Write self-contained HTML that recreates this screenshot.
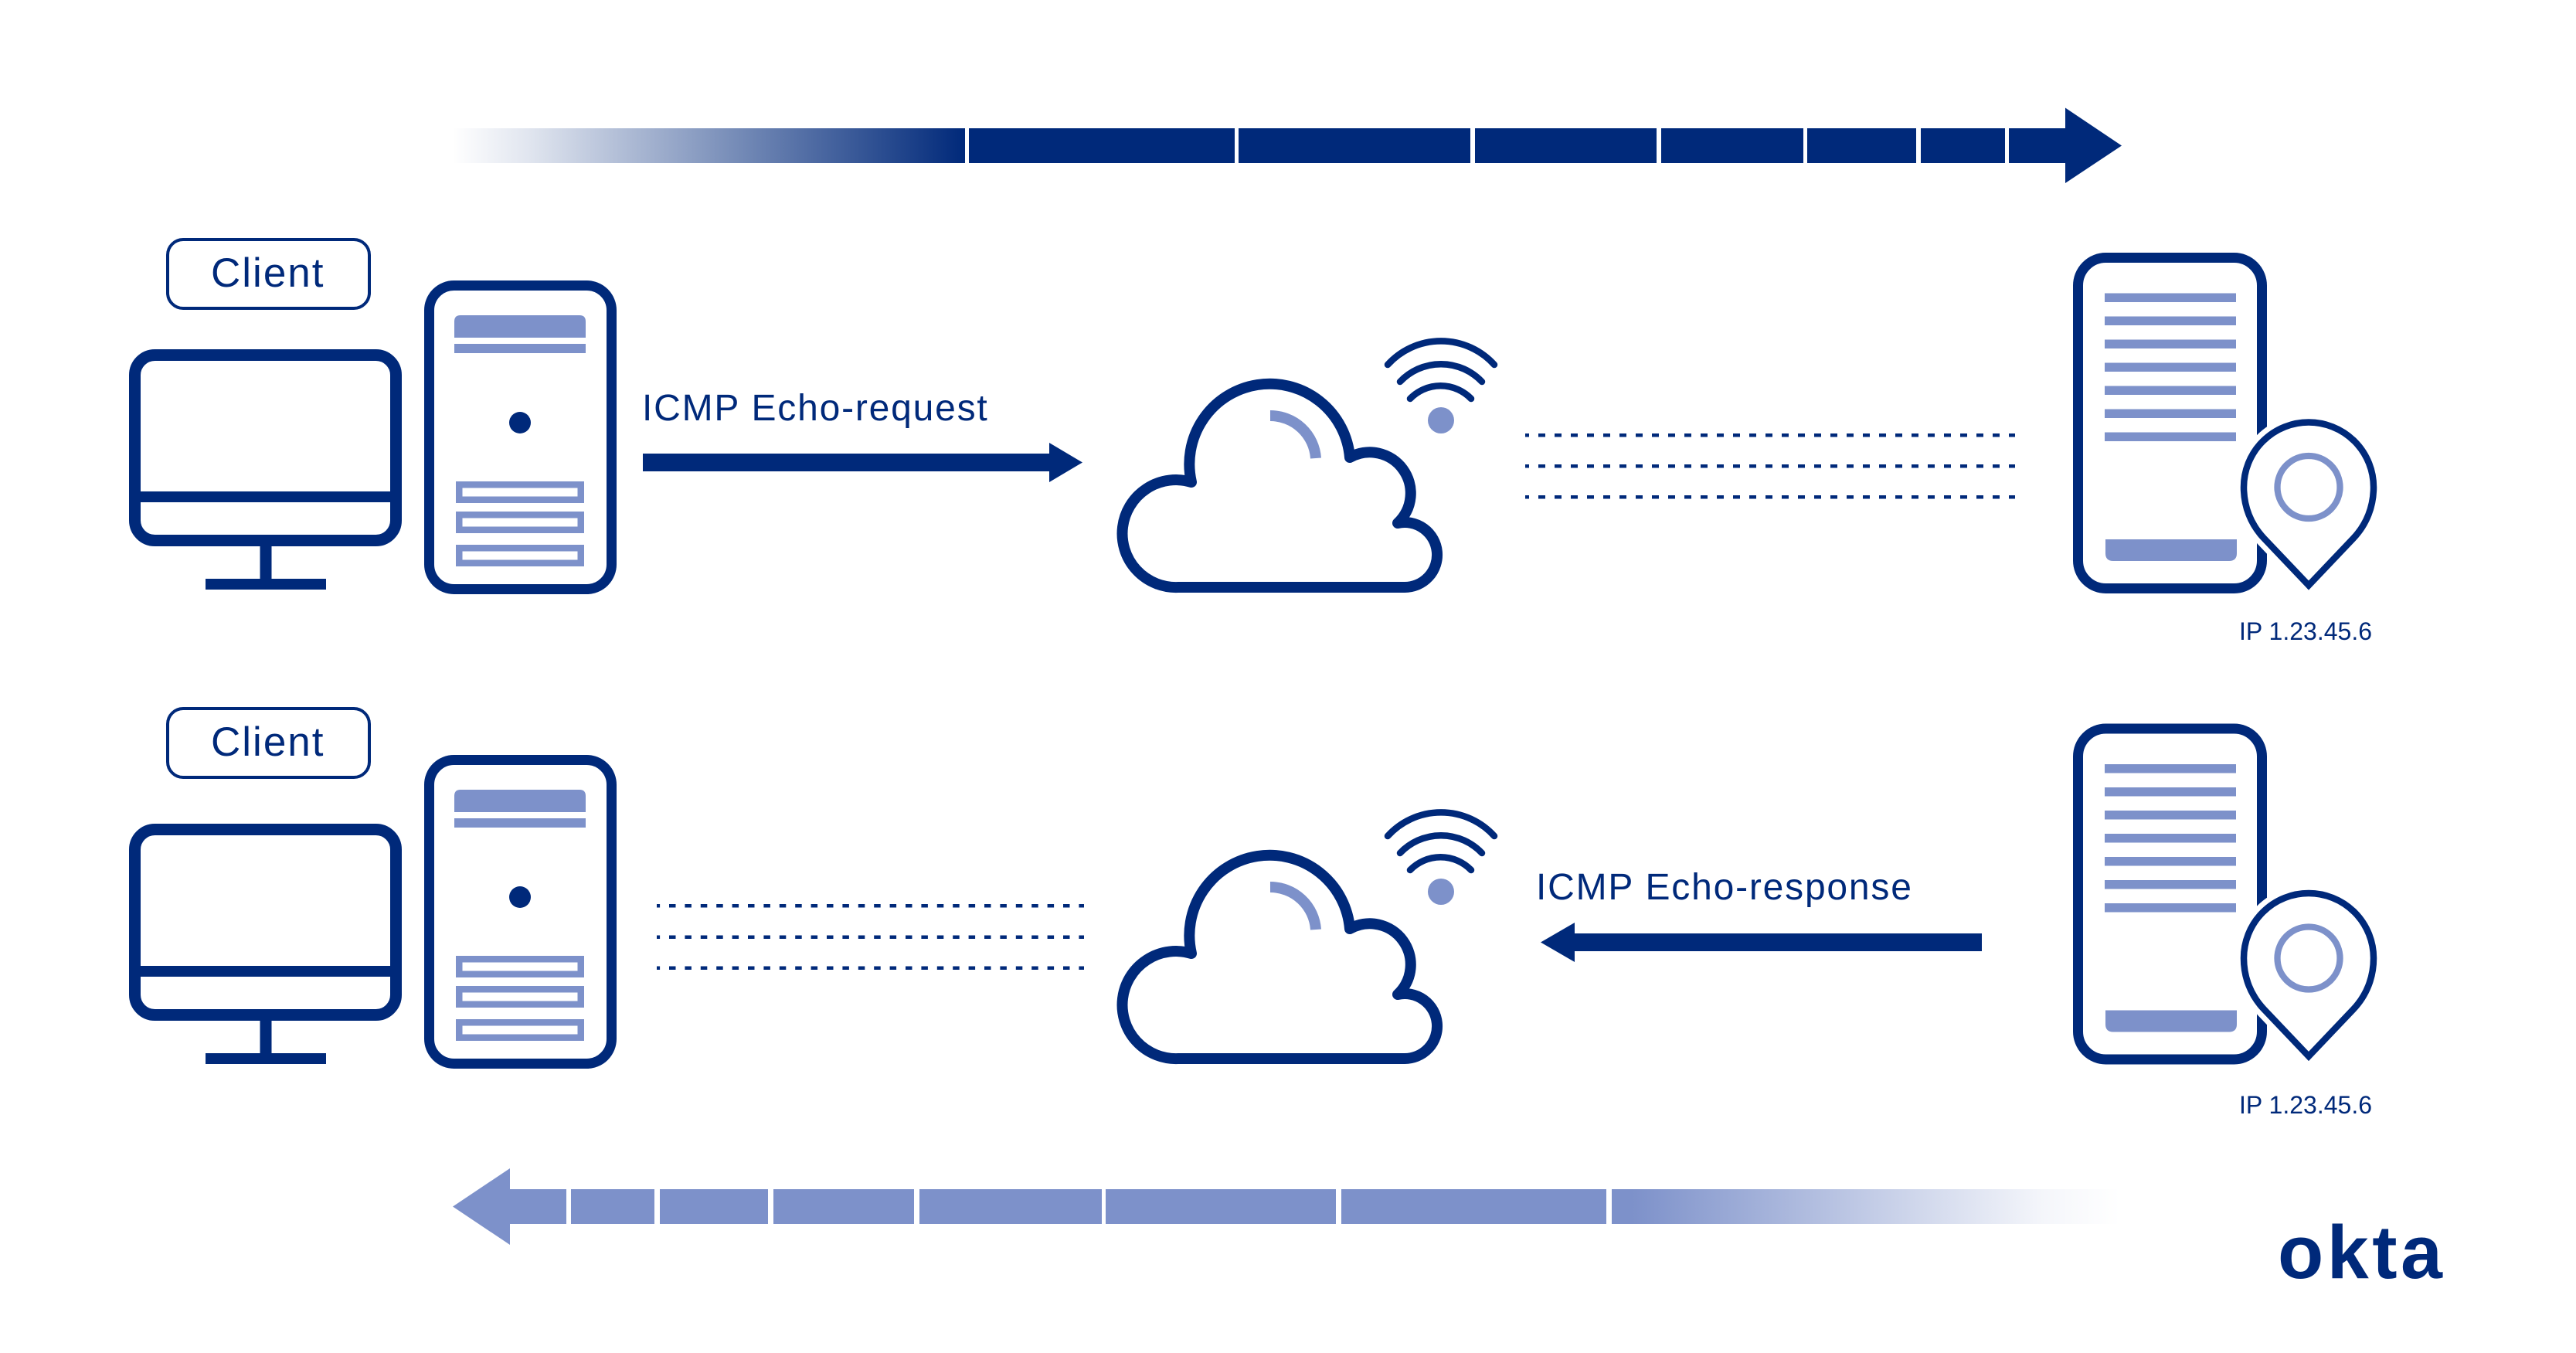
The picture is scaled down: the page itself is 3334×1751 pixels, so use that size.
<!DOCTYPE html>
<html>
<head>
<meta charset="utf-8">
<style>
  html,body{margin:0;padding:0;background:#fff;}
  body{width:3334px;height:1751px;overflow:hidden;}
  svg{display:block;}
  text{font-family:"Liberation Sans",Arial,sans-serif;fill:#00297A;}
</style>
</head>
<body>
<svg width="3334" height="1751" viewBox="0 0 3334 1751" xmlns="http://www.w3.org/2000/svg">
  <defs>
    <linearGradient id="gTop" x1="585" y1="0" x2="1249" y2="0" gradientUnits="userSpaceOnUse">
      <stop offset="0" stop-color="#00297A" stop-opacity="0"/>
      <stop offset="0.15" stop-color="#00297A" stop-opacity="0.12"/>
      <stop offset="1" stop-color="#00297A" stop-opacity="1"/>
    </linearGradient>
    <linearGradient id="gBot" x1="2086" y1="0" x2="2744" y2="0" gradientUnits="userSpaceOnUse">
      <stop offset="0" stop-color="#7D91CA" stop-opacity="1"/>
      <stop offset="0.04" stop-color="#7D91CA" stop-opacity="1"/>
      <stop offset="0.85" stop-color="#7D91CA" stop-opacity="0.08"/>
      <stop offset="1" stop-color="#7D91CA" stop-opacity="0"/>
    </linearGradient>

    <!-- client computer (monitor + tower) -->
    <g id="pc">
      <rect x="174.5" y="459.5" width="338" height="240" rx="26" fill="none" stroke="#00297A" stroke-width="15"/>
      <rect x="175" y="636" width="338" height="14" fill="#00297A"/>
      <rect x="336.5" y="700" width="15" height="52" fill="#00297A"/>
      <rect x="266" y="749" width="156" height="14" fill="#00297A"/>
      <rect x="555.5" y="369.5" width="236" height="393" rx="32" fill="none" stroke="#00297A" stroke-width="13"/>
      <path d="M588 437 V416 Q588 408 596 408 H750 Q758 408 758 416 V437 Z" fill="#7D91CA"/>
      <rect x="588" y="445" width="170" height="12" fill="#7D91CA"/>
      <circle cx="673" cy="547" r="14" fill="#00297A"/>
      <rect x="594.25" y="627.25" width="157.5" height="19.5" fill="none" stroke="#7D91CA" stroke-width="8.5"/>
      <rect x="594.25" y="666.25" width="157.5" height="19.5" fill="none" stroke="#7D91CA" stroke-width="8.5"/>
      <rect x="594.25" y="709.25" width="157.5" height="19.5" fill="none" stroke="#7D91CA" stroke-width="8.5"/>
    </g>

    <!-- cloud with wifi -->
    <g id="cloud">
      <path d="M1817 760 L1525 760 A69.5 69.5 0 1 1 1542 624 A104 104 0 1 1 1747 592 A53 53 0 0 1 1809 677 A42 42 0 1 1 1817 760 Z"
            fill="#fff" stroke="#00297A" stroke-width="14" stroke-linejoin="round"/>
      <path d="M1644 538 A59 59 0 0 1 1703 593" fill="none" stroke="#7D91CA" stroke-width="14"/>
      <circle cx="1865" cy="544" r="17" fill="#7D91CA"/>
      <path d="M1825 516 A55 55 0 0 1 1904 516" fill="none" stroke="#00297A" stroke-width="8.5" stroke-linecap="round"/>
      <path d="M1812 494 A73 73 0 0 1 1918 494" fill="none" stroke="#00297A" stroke-width="8.5" stroke-linecap="round"/>
      <path d="M1796 472 A93 93 0 0 1 1934 472" fill="none" stroke="#00297A" stroke-width="8.5" stroke-linecap="round"/>
    </g>

    <!-- server with pin -->
    <g id="server">
      <rect x="2689.5" y="333.5" width="238" height="428" rx="36" fill="none" stroke="#00297A" stroke-width="13"/>
      <rect x="2724" y="379.5" width="170" height="11.5" fill="#7D91CA"/>
      <rect x="2724" y="409.5" width="170" height="11.5" fill="#7D91CA"/>
      <rect x="2724" y="439.5" width="170" height="11.5" fill="#7D91CA"/>
      <rect x="2724" y="469.5" width="170" height="11.5" fill="#7D91CA"/>
      <rect x="2724" y="499.5" width="170" height="11.5" fill="#7D91CA"/>
      <rect x="2724" y="529.5" width="170" height="11.5" fill="#7D91CA"/>
      <rect x="2724" y="559.5" width="170" height="11.5" fill="#7D91CA"/>
      <path d="M2725 698 H2895 V716 Q2895 726 2885 726 H2735 Q2725 726 2725 716 Z" fill="#7D91CA"/>
      <path d="M2988 757.5 L2930 696.5 C2913 678.5 2904 655.5 2904 630.5 A84 84 0 0 1 3072 630.5 C3072 655.5 3063 678.5 3046 696.5 Z"
            fill="#fff" stroke="#fff" stroke-width="22" stroke-linejoin="miter"/>
      <path d="M2988 757.5 L2930 696.5 C2913 678.5 2904 655.5 2904 630.5 A84 84 0 0 1 3072 630.5 C3072 655.5 3063 678.5 3046 696.5 Z"
            fill="#fff" stroke="#00297A" stroke-width="8.5" stroke-linejoin="miter" stroke-miterlimit="10"/>
      <circle cx="2988" cy="630.5" r="40.5" fill="none" stroke="#7D91CA" stroke-width="8.3"/>
    </g>

    <g id="clientbox">
      <rect x="217" y="310" width="261" height="89" rx="20" fill="#fff" stroke="#00297A" stroke-width="4"/>
      <text x="273" y="371" font-size="53" letter-spacing="2">Client</text>
    </g>
  </defs>

  <!-- TOP BIG ARROW -->
  <rect x="585" y="166" width="664" height="45" fill="url(#gTop)"/>
  <rect x="1254" y="166" width="344" height="45" fill="#00297A"/>
  <rect x="1603" y="166" width="300" height="45" fill="#00297A"/>
  <rect x="1909" y="166" width="235" height="45" fill="#00297A"/>
  <rect x="2150" y="166" width="184" height="45" fill="#00297A"/>
  <rect x="2339" y="166" width="141" height="45" fill="#00297A"/>
  <rect x="2486" y="166" width="109" height="45" fill="#00297A"/>
  <polygon points="2600,166 2673,166 2673,139.5 2746,188.5 2673,237 2673,211 2600,211" fill="#00297A"/>

  <!-- TOP ROW -->
  <use href="#clientbox"/>
  <use href="#pc"/>
  <text x="831" y="544" font-size="48" letter-spacing="1.8">ICMP Echo-request</text>
  <polygon points="832,587 1358,587 1358,573 1401,598.5 1358,624 1358,610 832,610" fill="#00297A"/>
  <use href="#cloud"/>
  <g stroke="#00297A" stroke-width="4.5" stroke-dasharray="9 12" stroke-dashoffset="4" fill="none">
    <line x1="1974" y1="563.3" x2="2608" y2="563.3"/>
    <line x1="1974" y1="603.3" x2="2608" y2="603.3"/>
    <line x1="1974" y1="643.3" x2="2608" y2="643.3"/>
  </g>
  <use href="#server"/>
  <text x="2898" y="828" font-size="32">IP 1.23.45.6</text>

  <!-- BOTTOM ROW -->
  <use href="#clientbox" transform="translate(0,607)"/>
  <use href="#pc" transform="translate(0,614)"/>
  <g stroke="#00297A" stroke-width="4.5" stroke-dasharray="8.5 11.9" stroke-dashoffset="4.4" fill="none">
    <line x1="850" y1="1172.3" x2="1403" y2="1172.3"/>
    <line x1="850" y1="1212.7" x2="1403" y2="1212.7"/>
    <line x1="850" y1="1252.7" x2="1403" y2="1252.7"/>
  </g>
  <use href="#cloud" transform="translate(0,610)"/>
  <text x="1988" y="1164" font-size="48" letter-spacing="1.8">ICMP Echo-response</text>
  <polygon points="2565,1208 2038,1208 2038,1194 1994,1219.5 2038,1245 2038,1231 2565,1231" fill="#00297A"/>
  <use href="#server" transform="translate(0,609.5)"/>
  <text x="2898" y="1441" font-size="32">IP 1.23.45.6</text>

  <!-- BOTTOM BIG ARROW -->
  <polygon points="733,1539 660,1539 660,1512 586,1561.5 660,1611 660,1584 733,1584" fill="#7D91CA"/>
  <rect x="739" y="1539" width="108" height="45" fill="#7D91CA"/>
  <rect x="854" y="1539" width="140" height="45" fill="#7D91CA"/>
  <rect x="1001" y="1539" width="182" height="45" fill="#7D91CA"/>
  <rect x="1190" y="1539" width="236" height="45" fill="#7D91CA"/>
  <rect x="1431" y="1539" width="298" height="45" fill="#7D91CA"/>
  <rect x="1736" y="1539" width="343" height="45" fill="#7D91CA"/>
  <rect x="2086" y="1539" width="658" height="45" fill="url(#gBot)"/>

  <!-- okta logo -->
  <text x="2948" y="1654" font-size="97" font-weight="bold" letter-spacing="4.5">okta</text>
</svg>
</body>
</html>
